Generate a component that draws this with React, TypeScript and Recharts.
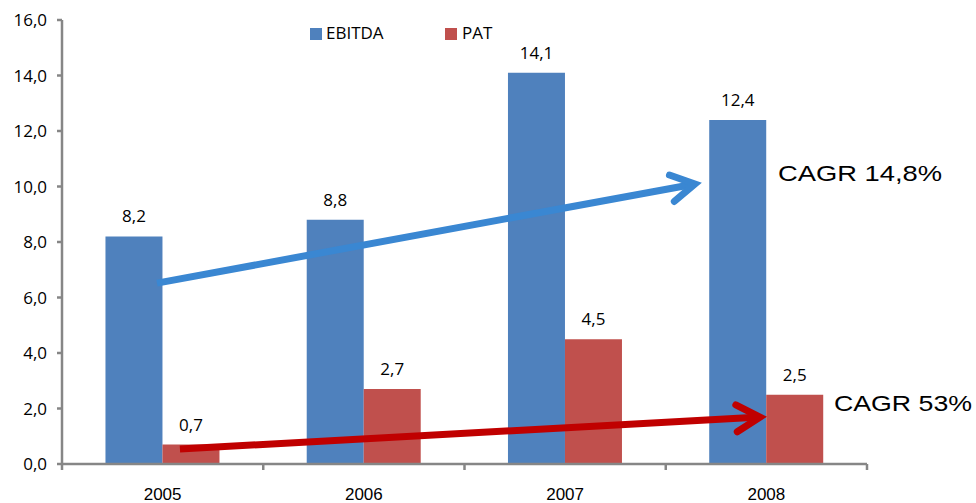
import React from 'react';
import {
  BarChart,
  Bar,
  XAxis,
  YAxis,
  Legend,
  LabelList,
  ReferenceLine,
  ReferenceDot,
} from 'recharts';

// ---- data ----
const categories = ['2005', '2006', '2007', '2008'];
const ebitdaValues = [8.2, 8.8, 14.1, 12.4];
const patValues = [0.7, 2.7, 4.5, 2.5];
const yTicks = [0, 2, 4, 6, 8, 10, 12, 14, 16];
const boundaryTicks = [0, 1, 2, 3, 4];

// trend arrows, in data space (x: category index space 0..4, y: value)
const ebitdaArrow = { from: { x: 0.472, y: 6.52 }, to: { x: 3.145, y: 10.09 } };
const patArrow = { from: { x: 0.586, y: 0.54 }, to: { x: 3.468, y: 1.69 } };
const cagrLabels = [
  { text: 'CAGR 14,8%', x: 3.558, y: 10.2 },
  { text: 'CAGR 53%', x: 3.836, y: 1.91 },
];

const data = categories.map((c, i) => ({
  year: c,
  pos: i + 0.5,
  EBITDA: ebitdaValues[i],
  PAT: patValues[i],
}));

// ---- styles ----
const BLUE = '#4F81BD';
const RED = '#C0504D';
const BLUE_ARROW = '#3A87D2';
const RED_ARROW = '#C00000';
const AXIS = '#868686';
const FONT = '"Open Sans", "Noto Sans", sans-serif';
const NARROW = '"Liberation Sans Narrow", "Liberation Sans", sans-serif';
const cagrWidths = [164, 138];

const fmt = (v: number) => v.toFixed(1).replace('.', ',');

const makeArrow = (color: string) => (props: any) => {
  const { x1, y1, x2, y2 } = props;
  if ([x1, y1, x2, y2].some((v) => typeof v !== 'number' || isNaN(v))) return null;
  const ang = Math.atan2(y2 - y1, x2 - x1);
  const L = 27;
  const a = 0.52;
  const p1x = x2 - L * Math.cos(ang - a);
  const p1y = y2 - L * Math.sin(ang - a);
  const p2x = x2 - L * Math.cos(ang + a);
  const p2y = y2 - L * Math.sin(ang + a);
  const ex = x2 - 4 * Math.cos(ang);
  const ey = y2 - 4 * Math.sin(ang);
  return (
    <g>
      <line x1={x1} y1={y1} x2={ex} y2={ey} stroke={color} strokeWidth={7} />
      <polyline
        points={`${p1x},${p1y} ${x2},${y2} ${p2x},${p2y}`}
        fill="none"
        stroke={color}
        strokeWidth={7}
        strokeLinecap="round"
        strokeLinejoin="miter"
      />
    </g>
  );
};

const makeCagr = (text: string, width: number) => (props: any) => {
  const { cx, cy } = props;
  return (
    <text
      x={cx}
      y={cy}
      fontFamily='"Liberation Sans", Arial, sans-serif'
      fontSize={22}
      fill="#000"
      textLength={width}
      lengthAdjust="spacingAndGlyphs"
    >
      {text}
    </text>
  );
};

const LegendContent = () => (
  <div style={{ position: 'relative', width: 220, height: 30, fontFamily: FONT, fontSize: 17 }}>
    <div style={{ position: 'absolute', left: 0, top: 7, width: 12, height: 12, background: BLUE }} />
    <div style={{ position: 'absolute', left: 16, top: 0, lineHeight: '24px', color: '#000' }}>EBITDA</div>
    <div style={{ position: 'absolute', left: 135, top: 7, width: 12, height: 12, background: RED }} />
    <div style={{ position: 'absolute', left: 152, top: 0, lineHeight: '24px', color: '#000' }}>PAT</div>
  </div>
);

export default function App() {
  return (
    <div style={{ position: 'absolute', left: 0, top: 0, background: '#fff' }}>
      <BarChart
        width={976}
        height={503}
        data={data}
        margin={{ top: 20, right: 109, bottom: 0, left: 0 }}
        barCategoryGap="21.6%"
        barGap={0}
        style={{ fontFamily: FONT }}
      >
        <XAxis
          xAxisId="b"
          dataKey="year"
          height={38}
          axisLine={false}
          tickLine={false}
          tickSize={0}
          tickMargin={23}
          tick={{ fontFamily: NARROW, fontSize: 17, fill: '#000' }}
        />
        <XAxis
          xAxisId="a"
          dataKey="pos"
          type="number"
          domain={[0, 4]}
          ticks={boundaryTicks}
          allowDataOverflow
          height={1}
          axisLine={{ stroke: AXIS, strokeWidth: 2.5 }}
          tickLine={{ stroke: AXIS, strokeWidth: 2.5 }}
          tickSize={6}
          tickFormatter={() => ''}
        />
        <YAxis
          domain={[0, 16]}
          ticks={yTicks}
          width={62}
          tickFormatter={fmt}
          axisLine={{ stroke: AXIS, strokeWidth: 2.5 }}
          tickLine={{ stroke: AXIS, strokeWidth: 2.5 }}
          tickSize={5}
          tickMargin={10}
          tick={{ fontFamily: FONT, fontSize: 17, fill: '#000' }}
        />
        <Legend
          layout="horizontal"
          verticalAlign="middle"
          align="center"
          content={<LegendContent />}
          wrapperStyle={{ top: 21, left: 310, width: 220, height: 30 }}
        />
        <Bar xAxisId="b" dataKey="EBITDA" fill={BLUE} isAnimationActive={false}>
          <LabelList dataKey="EBITDA" position="top" offset={14} formatter={(v: any) => fmt(Number(v))} style={{ fontFamily: FONT, fontSize: 17, fill: '#000' }} />
        </Bar>
        <Bar xAxisId="b" dataKey="PAT" fill={RED} isAnimationActive={false}>
          <LabelList dataKey="PAT" position="top" offset={14} formatter={(v: any) => fmt(Number(v))} style={{ fontFamily: FONT, fontSize: 17, fill: '#000' }} />
        </Bar>
        <ReferenceLine
          xAxisId="a"
          segment={[ebitdaArrow.from, ebitdaArrow.to]}
          ifOverflow="visible"
          shape={makeArrow(BLUE_ARROW)}
        />
        <ReferenceLine
          xAxisId="a"
          segment={[patArrow.from, patArrow.to]}
          ifOverflow="visible"
          shape={makeArrow(RED_ARROW)}
        />
        {cagrLabels.map((l, i) => (
          <ReferenceDot
            key={l.text}
            xAxisId="a"
            x={l.x}
            y={l.y}
            r={0}
            ifOverflow="visible"
            shape={makeCagr(l.text, cagrWidths[i])}
          />
        ))}
      </BarChart>
    </div>
  );
}
